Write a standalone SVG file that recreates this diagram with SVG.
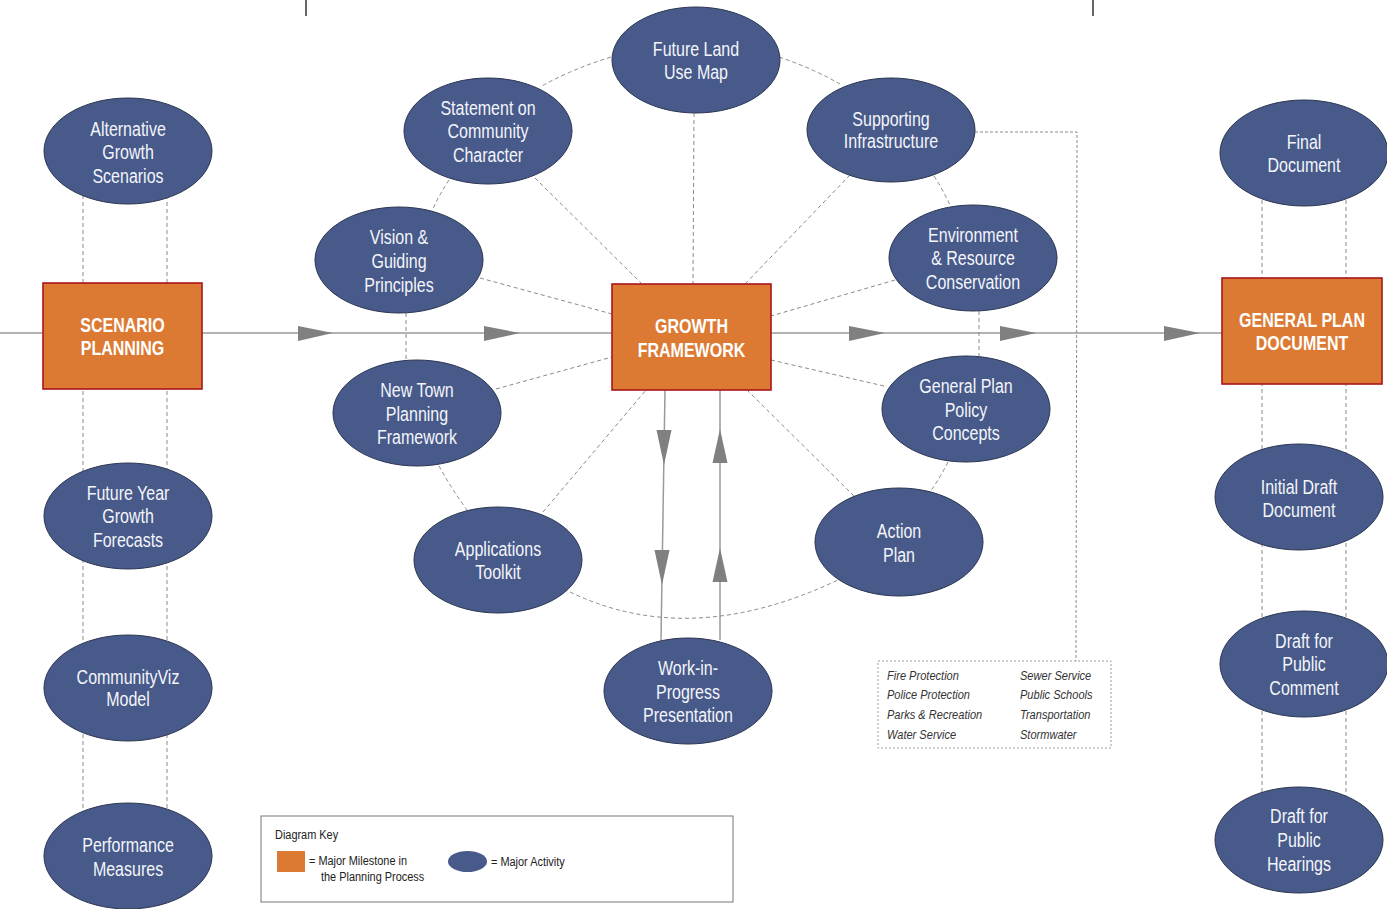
<svg xmlns="http://www.w3.org/2000/svg" width="1387" height="909" viewBox="0 0 1387 909">
<style>
.act{fill:#475A8A;stroke:#2B3550;stroke-width:1}
.mile{fill:#DC7A33;stroke:#A8161B;stroke-width:1.6}
.at{font-family:"Liberation Sans",Arial,sans-serif;font-size:20px;fill:#F4F5FA;text-anchor:middle}
.mt{font-family:"Liberation Sans",Arial,sans-serif;font-size:20px;font-weight:bold;fill:#FFFFFF;text-anchor:middle}
.dash{fill:none;stroke:#8A8A8A;stroke-width:1;stroke-dasharray:4 3}
.dot{fill:none;stroke:#8A8A8A;stroke-width:1;stroke-dasharray:3 2}
.flow{fill:none;stroke:#9A9A9A;stroke-width:1.5}
.ah{fill:#808080}
.it{font-family:"Liberation Sans",Arial,sans-serif;font-size:13.5px;font-style:italic;fill:#333333}
.kt{font-family:"Liberation Sans",Arial,sans-serif;font-size:13.5px;fill:#222222}
</style>

<g id="connectors">
  <line x1="306" y1="0" x2="306" y2="16" stroke="#333" stroke-width="1.5"/>
  <line x1="1093" y1="0" x2="1093" y2="16" stroke="#333" stroke-width="1.5"/>
  <line class="dash" x1="83" y1="195" x2="83" y2="815"/>
  <line class="dash" x1="167" y1="195" x2="167" y2="815"/>
  <line class="dash" x1="1262" y1="200" x2="1262" y2="800"/>
  <line class="dash" x1="1346" y1="200" x2="1346" y2="800"/>
  <line class="flow" x1="0" y1="333" x2="1222" y2="333"/>
  <polygon class="ah" points="333,333 298,326 298,341"/>
  <polygon class="ah" points="520,333 484,326 484,341"/>
  <polygon class="ah" points="885,333 849,326 849,341"/>
  <polygon class="ah" points="1036,333 1000,326 1000,341"/>
  <polygon class="ah" points="1200,333 1164,326 1164,341"/>
  <line class="flow" x1="665" y1="390" x2="661" y2="640"/>
  <polygon class="ah" points="664,465 656.5,430 671.5,430"/>
  <polygon class="ah" points="662,585 654.5,550 669.5,550"/>
  <line class="flow" x1="720" y1="390" x2="720" y2="640"/>
  <polygon class="ah" points="720,429 712.5,463 727.5,463"/>
  <polygon class="ah" points="720,548 712.5,582 727.5,582"/>
  <line class="dash" x1="694" y1="113" x2="693" y2="284"/>
  <line class="dash" x1="535" y1="178" x2="642" y2="284"/>
  <line class="dash" x1="850" y1="175" x2="745" y2="284"/>
  <line class="dash" x1="480" y1="278" x2="612" y2="314"/>
  <line class="dash" x1="895" y1="280" x2="771" y2="316"/>
  <line class="dash" x1="496" y1="389" x2="612" y2="357"/>
  <line class="dash" x1="884" y1="386" x2="771" y2="360"/>
  <line class="dash" x1="543" y1="512" x2="646" y2="390"/>
  <line class="dash" x1="854" y1="496" x2="747" y2="390"/>
  <path class="dash" d="M611,57 Q572,69 540,87"/>
  <path class="dash" d="M779,57 Q812,68 840,84"/>
  <path class="dash" d="M449,180 Q439,195 432,211"/>
  <path class="dash" d="M934,176 Q943,190 950,205"/>
  <line class="dash" x1="406" y1="313" x2="406" y2="360"/>
  <line class="dash" x1="979" y1="311" x2="979" y2="356"/>
  <path class="dash" d="M439,466 Q451,488 467,510"/>
  <path class="dash" d="M948,462 Q940,478 930,492"/>
  <path class="dash" d="M570,592 Q690,650 838,580"/>
  <polyline class="dot" points="975,132 1077,132 1076,661"/>
</g>

<g id="scenario-planning"><rect class="mile" x="43" y="283" width="159" height="106"/><g transform="translate(122.5 0) scale(0.8 1)"><text class="mt" x="0" y="332">SCENARIO</text><text class="mt" x="0" y="355">PLANNING</text></g></g>
<g id="growth-framework"><rect class="mile" x="612" y="284" width="159" height="106"/><g transform="translate(691.5 0) scale(0.8 1)"><text class="mt" x="0" y="333">GROWTH</text><text class="mt" x="0" y="357">FRAMEWORK</text></g></g>
<g id="general-plan-document"><rect class="mile" x="1222" y="278" width="160" height="106"/><g transform="translate(1302 0) scale(0.8 1)"><text class="mt" x="0" y="327">GENERAL PLAN</text><text class="mt" x="0" y="350">DOCUMENT</text></g></g>

<g id="alternative-growth-scenarios"><ellipse class="act" cx="128" cy="151" rx="84" ry="53"/><g transform="translate(128 0) scale(0.8 1)"><text class="at" x="0" y="136">Alternative</text><text class="at" x="0" y="159">Growth</text><text class="at" x="0" y="183">Scenarios</text></g></g>
<g id="future-year-growth-forecasts"><ellipse class="act" cx="128" cy="516" rx="84" ry="53"/><g transform="translate(128 0) scale(0.8 1)"><text class="at" x="0" y="500">Future Year</text><text class="at" x="0" y="523">Growth</text><text class="at" x="0" y="547">Forecasts</text></g></g>
<g id="communityviz-model"><ellipse class="act" cx="128" cy="688" rx="84" ry="53"/><g transform="translate(128 0) scale(0.8 1)"><text class="at" x="0" y="684">CommunityViz</text><text class="at" x="0" y="706">Model</text></g></g>
<g id="performance-measures"><ellipse class="act" cx="128" cy="856" rx="84" ry="53"/><g transform="translate(128 0) scale(0.8 1)"><text class="at" x="0" y="852">Performance</text><text class="at" x="0" y="876">Measures</text></g></g>

<g id="vision-guiding-principles"><ellipse class="act" cx="399" cy="260" rx="84" ry="53"/><g transform="translate(399 0) scale(0.8 1)"><text class="at" x="0" y="244">Vision &amp;</text><text class="at" x="0" y="268">Guiding</text><text class="at" x="0" y="292">Principles</text></g></g>
<g id="statement-community-character"><ellipse class="act" cx="488" cy="131" rx="84" ry="53"/><g transform="translate(488 0) scale(0.8 1)"><text class="at" x="0" y="115">Statement on</text><text class="at" x="0" y="138">Community</text><text class="at" x="0" y="162">Character</text></g></g>
<g id="future-land-use-map"><ellipse class="act" cx="696" cy="60" rx="84" ry="53"/><g transform="translate(696 0) scale(0.8 1)"><text class="at" x="0" y="56">Future Land</text><text class="at" x="0" y="79">Use Map</text></g></g>
<g id="supporting-infrastructure"><ellipse class="act" cx="891" cy="130" rx="84" ry="52"/><g transform="translate(891 0) scale(0.8 1)"><text class="at" x="0" y="126">Supporting</text><text class="at" x="0" y="148">Infrastructure</text></g></g>
<g id="environment-resource-conservation"><ellipse class="act" cx="973" cy="258" rx="84" ry="53"/><g transform="translate(973 0) scale(0.8 1)"><text class="at" x="0" y="242">Environment</text><text class="at" x="0" y="265">&amp; Resource</text><text class="at" x="0" y="289">Conservation</text></g></g>
<g id="new-town-planning-framework"><ellipse class="act" cx="417" cy="413" rx="84" ry="53"/><g transform="translate(417 0) scale(0.8 1)"><text class="at" x="0" y="397">New Town</text><text class="at" x="0" y="421">Planning</text><text class="at" x="0" y="444">Framework</text></g></g>
<g id="general-plan-policy-concepts"><ellipse class="act" cx="966" cy="409" rx="84" ry="53"/><g transform="translate(966 0) scale(0.8 1)"><text class="at" x="0" y="393">General Plan</text><text class="at" x="0" y="417">Policy</text><text class="at" x="0" y="440">Concepts</text></g></g>
<g id="applications-toolkit"><ellipse class="act" cx="498" cy="560" rx="84" ry="53"/><g transform="translate(498 0) scale(0.8 1)"><text class="at" x="0" y="556">Applications</text><text class="at" x="0" y="579">Toolkit</text></g></g>
<g id="action-plan"><ellipse class="act" cx="899" cy="542" rx="84" ry="54"/><g transform="translate(899 0) scale(0.8 1)"><text class="at" x="0" y="538">Action</text><text class="at" x="0" y="562">Plan</text></g></g>
<g id="work-in-progress-presentation"><ellipse class="act" cx="688" cy="691" rx="84" ry="53"/><g transform="translate(688 0) scale(0.8 1)"><text class="at" x="0" y="675">Work-in-</text><text class="at" x="0" y="699">Progress</text><text class="at" x="0" y="722">Presentation</text></g></g>

<g id="final-document"><ellipse class="act" cx="1304" cy="153" rx="84" ry="53"/><g transform="translate(1304 0) scale(0.8 1)"><text class="at" x="0" y="149">Final</text><text class="at" x="0" y="172">Document</text></g></g>
<g id="initial-draft-document"><ellipse class="act" cx="1299" cy="497" rx="84" ry="53"/><g transform="translate(1299 0) scale(0.8 1)"><text class="at" x="0" y="494">Initial Draft</text><text class="at" x="0" y="517">Document</text></g></g>
<g id="draft-public-comment"><ellipse class="act" cx="1304" cy="664" rx="84" ry="53"/><g transform="translate(1304 0) scale(0.8 1)"><text class="at" x="0" y="648">Draft for</text><text class="at" x="0" y="671">Public</text><text class="at" x="0" y="695">Comment</text></g></g>
<g id="draft-public-hearings"><ellipse class="act" cx="1299" cy="840" rx="84" ry="53"/><g transform="translate(1299 0) scale(0.8 1)"><text class="at" x="0" y="823">Draft for</text><text class="at" x="0" y="847">Public</text><text class="at" x="0" y="871">Hearings</text></g></g>

<g id="infrastructure-list">
  <rect x="878" y="661" width="233" height="87" fill="none" stroke="#9A9A9A" stroke-width="1" stroke-dasharray="2 2"/>
  <g transform="translate(887 0) scale(0.82 1)">
    <text class="it" x="0" y="680">Fire Protection</text>
    <text class="it" x="0" y="699">Police Protection</text>
    <text class="it" x="0" y="719">Parks &amp; Recreation</text>
    <text class="it" x="0" y="739">Water Service</text>
  </g>
  <g transform="translate(1020 0) scale(0.82 1)">
    <text class="it" x="0" y="680">Sewer Service</text>
    <text class="it" x="0" y="699">Public Schools</text>
    <text class="it" x="0" y="719">Transportation</text>
    <text class="it" x="0" y="739">Stormwater</text>
  </g>
</g>

<g id="diagram-key">
  <rect x="261" y="816" width="472" height="86" fill="#FFFFFF" stroke="#777" stroke-width="1"/>
  <text class="kt" transform="translate(275 0) scale(0.81 1)" x="0" y="839">Diagram Key</text>
  <rect x="277" y="851" width="28" height="21" fill="#DC7A33"/>
  <text class="kt" transform="translate(309 0) scale(0.81 1)" x="0" y="865">= Major Milestone in</text>
  <text class="kt" transform="translate(321 0) scale(0.81 1)" x="0" y="881">the Planning Process</text>
  <ellipse cx="467.5" cy="861.5" rx="19.5" ry="10.5" fill="#475A8A"/>
  <text class="kt" transform="translate(491 0) scale(0.81 1)" x="0" y="866">= Major Activity</text>
</g>
</svg>
